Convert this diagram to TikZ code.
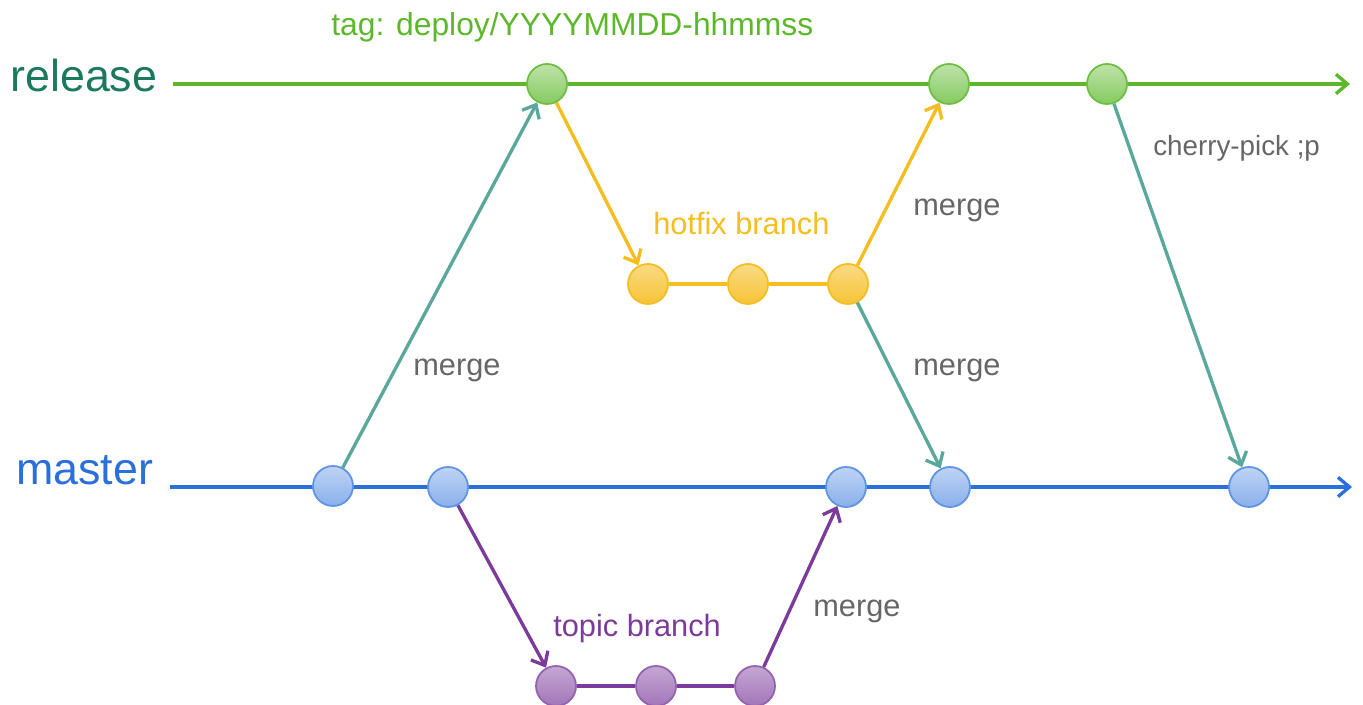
\documentclass[tikz,border=0pt]{standalone}
\usepackage{fontspec}
\setmainfont{Liberation Sans}
\usetikzlibrary{arrows.meta}
\definecolor{relcol}{HTML}{1B7A5E}
\definecolor{grn}{HTML}{5CB82A}
\definecolor{teal}{HTML}{5AA89C}
\definecolor{orng}{HTML}{F5BD1F}
\definecolor{blu}{HTML}{2A6FDB}
\definecolor{purp}{HTML}{7B3B9B}
\definecolor{txtgray}{HTML}{666666}
\tikzset{
  commit/.style={circle,minimum size=0.8cm,inner sep=0pt,line width=1pt},
  gnode/.style={commit,draw=grn!90,top color=grn!40,bottom color=grn!75},
  onode/.style={commit,draw=orng,top color=orng!55,bottom color=orng!90},
  bnode/.style={commit,draw=blu!75,top color=blu!30,bottom color=blu!55},
  pnode/.style={commit,draw=purp!80,top color=purp!45,bottom color=purp!70},
  conn/.style={line width=1.9pt},
  tip/.style={-{Straight Barb[length=6.5pt,width=11pt]}},
  arr/.style={conn,tip},
  lbl/.style={anchor=base west,inner sep=0pt},
  f17/.style={font=\fontsize{17.5}{20}\selectfont},
}
\begin{document}
\begin{tikzpicture}[x=0.02cm,y=-0.02cm]
\useasboundingbox (0,0) rectangle (1363,705);
% coordinates
\coordinate (relS) at (173,84);
\coordinate (relE) at (1350,84);
\coordinate (masS) at (170,487);
\coordinate (masE) at (1352,487);
% main lines
\draw[conn,grn,tip] (relS) -- (relE);
\draw[conn,blu,tip] (masS) -- (masE);
% commits
\node[gnode] (R1) at (547,84) {};
\node[gnode] (R2) at (949,84) {};
\node[gnode] (R3) at (1107,84) {};
\node[bnode] (M1) at (333,486) {};
\node[bnode] (M2) at (448,487) {};
\node[bnode] (M3) at (846,487) {};
\node[bnode] (M4) at (950,487) {};
\node[bnode] (M5) at (1249,487) {};
\node[onode] (H1) at (648,284) {};
\node[onode] (H2) at (748,284) {};
\node[onode] (H3) at (848,284) {};
\node[pnode] (T1) at (556,686) {};
\node[pnode] (T2) at (656,686) {};
\node[pnode] (T3) at (755,686) {};
% branch lines
\draw[conn,orng] (H1) -- (H2) -- (H3);
\draw[conn,purp] (T1) -- (T2) -- (T3);
% arrows
\draw[arr,teal] (M1) -- (R1);
\draw[arr,orng] (R1) -- (H1);
\draw[arr,orng] (H3) -- (R2);
\draw[arr,teal] (H3) -- (M4);
\draw[arr,teal] (R3) -- (M5);
\draw[arr,purp] (M2) -- (T1);
\draw[arr,purp] (T3) -- (M3);
% labels
\node[lbl,relcol,font=\fontsize{25.5}{30}\selectfont] (lrel) at (10,92) {release};
\node[lbl,blu,font=\fontsize{25.5}{30}\selectfont] (lmas) at (16,485) {master};
\node[lbl,grn,font=\fontsize{18.1}{22}\selectfont] (ltag) at (331,36) {tag: deploy/YYYYMMDD-hhmmss};
\node[lbl,orng,f17] (lhot) at (653,235) {hotfix branch};
\node[lbl,purp,f17] (ltop) at (553,637) {topic branch};
\node[lbl,txtgray,f17] (lm1) at (413,376) {merge};
\node[lbl,txtgray,f17] (lm2) at (913,216) {merge};
\node[lbl,txtgray,f17] (lm3) at (913,376) {merge};
\node[lbl,txtgray,f17] (lm4) at (813,617) {merge};
\node[lbl,txtgray,font=\fontsize{15.8}{18}\selectfont] (lcp) at (1153,156) {cherry-pick ;p};
\end{tikzpicture}
\end{document}
